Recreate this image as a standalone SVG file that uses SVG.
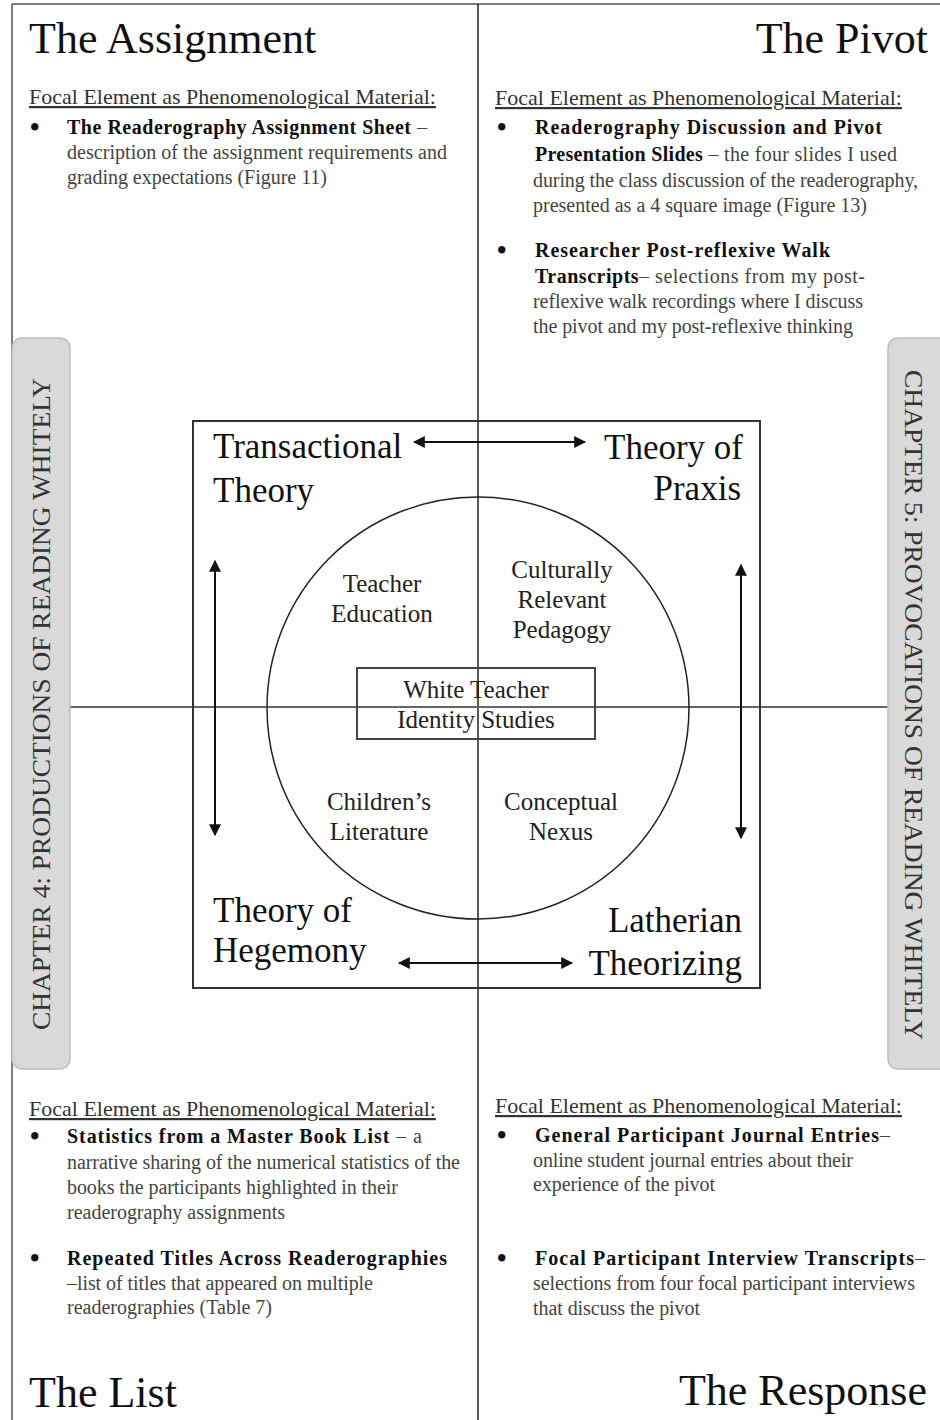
<svg xmlns="http://www.w3.org/2000/svg" width="940" height="1420" viewBox="0 0 940 1420">
<style>
.title{font-family:"Liberation Serif","Times New Roman",serif;font-size:44px;fill:#111}
.head{font-family:"Liberation Serif","Times New Roman",serif;font-size:22px;fill:#333;text-decoration:underline}
.body{font-family:"Liberation Serif","Times New Roman",serif;font-size:20px;fill:#444}
.bul{font-family:"Liberation Serif","Times New Roman",serif;font-size:27px;fill:#111;font-weight:bold}
.b{font-weight:bold;fill:#111}
.big{font-family:"Liberation Serif","Times New Roman",serif;font-size:35px;fill:#111}
.mid{font-family:"Liberation Serif","Times New Roman",serif;font-size:25px;fill:#222;text-anchor:middle}
.side{font-family:"Liberation Serif","Times New Roman",serif;font-size:26px;fill:#333;text-anchor:middle}
.bar{fill:#d9d9d9;stroke:#bdbdbd;stroke-width:1.5}
.conn{stroke:#111;stroke-width:2;fill:none}
</style>
<defs>
<marker id="ah" viewBox="0 0 10 10" refX="9" refY="5" markerWidth="6" markerHeight="6" orient="auto-start-reverse" markerUnits="strokeWidth">
<path d="M0,0 L10,5 L0,10 z" fill="#111"/>
</marker>
</defs>
<rect width="940" height="1420" fill="#fff"/>
<g id="frame">
<line x1="12" y1="4" x2="940" y2="4" stroke="#555" stroke-width="1.5"/>
<line x1="12" y1="4" x2="12" y2="1420" stroke="#555" stroke-width="1.5"/>
<line x1="478" y1="4" x2="478" y2="1420" stroke="#222" stroke-width="1.5"/>
<line x1="70" y1="707" x2="888" y2="707" stroke="#666" stroke-width="2"/>
</g>
<g id="side-left">
<rect class="bar" x="12" y="338" width="58" height="731" rx="10"/>
<text class="side" transform="translate(50,704) rotate(-90)" textLength="652" lengthAdjust="spacingAndGlyphs">CHAPTER 4: PRODUCTIONS OF READING WHITELY</text>
</g>
<g id="side-right">
<rect class="bar" x="888" y="338" width="62" height="731" rx="10"/>
<text class="side" transform="translate(905,705) rotate(90)" textLength="670" lengthAdjust="spacingAndGlyphs">CHAPTER 5: PROVOCATIONS OF READING WHITELY</text>
</g>
<g id="q-assignment">
<text class="title" x="29" y="53">The Assignment</text>
<text class="head" x="29" y="104">Focal Element as Phenomenological Material:</text>
<text class="bul" x="30" y="136">•</text>
<text class="body" x="67" y="134" textLength="360" lengthAdjust="spacing"><tspan class="b">The Readerography Assignment Sheet</tspan> –</text>
<text class="body" x="67" y="159" textLength="380" lengthAdjust="spacing">description of the assignment requirements and</text>
<text class="body" x="67" y="184" textLength="260" lengthAdjust="spacing">grading expectations (Figure 11)</text>
</g>
<g id="q-pivot">
<text class="title" x="928" y="53" text-anchor="end">The Pivot</text>
<text class="head" x="495" y="105">Focal Element as Phenomenological Material:</text>
<text class="bul" x="497" y="136">•</text>
<text class="body b" x="535" y="134" textLength="347" lengthAdjust="spacing">Readerography Discussion and Pivot</text>
<text class="body" x="535" y="161" textLength="362" lengthAdjust="spacing"><tspan class="b">Presentation Slides</tspan> – the four slides I used</text>
<text class="body" x="533" y="187" textLength="385" lengthAdjust="spacing">during the class discussion of the readerography,</text>
<text class="body" x="533" y="212" textLength="334" lengthAdjust="spacing">presented as a 4 square image (Figure 13)</text>
<text class="bul" x="497" y="259">•</text>
<text class="body b" x="535" y="257" textLength="295" lengthAdjust="spacing">Researcher Post-reflexive Walk</text>
<text class="body" x="535" y="283" textLength="330" lengthAdjust="spacing"><tspan class="b">Transcripts</tspan>– selections from my post-</text>
<text class="body" x="533" y="308" textLength="330" lengthAdjust="spacing">reflexive walk recordings where I discuss</text>
<text class="body" x="533" y="333" textLength="320" lengthAdjust="spacing">the pivot and my post-reflexive thinking</text>
</g>
<g id="q-list">
<text class="head" x="29" y="1116">Focal Element as Phenomenological Material:</text>
<text class="bul" x="30" y="1145">•</text>
<text class="body" x="67" y="1143" textLength="355" lengthAdjust="spacing"><tspan class="b">Statistics from a Master Book List</tspan> – a</text>
<text class="body" x="67" y="1169" textLength="393" lengthAdjust="spacing">narrative sharing of the numerical statistics of the</text>
<text class="body" x="67" y="1194" textLength="331" lengthAdjust="spacing">books the participants highlighted in their</text>
<text class="body" x="67" y="1219" textLength="218" lengthAdjust="spacing">readerography assignments</text>
<text class="bul" x="30" y="1267">•</text>
<text class="body b" x="67" y="1265" textLength="380" lengthAdjust="spacing">Repeated Titles Across Readerographies</text>
<text class="body" x="67" y="1290" textLength="306" lengthAdjust="spacing">–list of titles that appeared on multiple</text>
<text class="body" x="67" y="1314" textLength="205" lengthAdjust="spacing">readerographies (Table 7)</text>
<text class="title" x="29" y="1407">The List</text>
</g>
<g id="q-response">
<text class="head" x="495" y="1113">Focal Element as Phenomenological Material:</text>
<text class="bul" x="497" y="1144">•</text>
<text class="body" x="535" y="1142" textLength="355" lengthAdjust="spacing"><tspan class="b">General Participant Journal Entries</tspan>–</text>
<text class="body" x="533" y="1167" textLength="320" lengthAdjust="spacing">online student journal entries about their</text>
<text class="body" x="533" y="1191" textLength="182" lengthAdjust="spacing">experience of the pivot</text>
<text class="bul" x="497" y="1267">•</text>
<text class="body" x="535" y="1265" textLength="390" lengthAdjust="spacing"><tspan class="b">Focal Participant Interview Transcripts</tspan>–</text>
<text class="body" x="533" y="1290" textLength="382" lengthAdjust="spacing">selections from four focal participant interviews</text>
<text class="body" x="533" y="1315" textLength="167" lengthAdjust="spacing">that discuss the pivot</text>
<text class="title" x="927" y="1405" text-anchor="end">The Response</text>
</g>
<g id="center-box">
<rect x="193" y="421" width="567" height="567" fill="none" stroke="#333" stroke-width="2"/>
<circle cx="478" cy="708" r="211" fill="none" stroke="#222" stroke-width="1.5"/>
</g>
<g id="transactional-theory">
<text class="big" x="213" y="458">Transactional</text>
<text class="big" x="213" y="502">Theory</text>
</g>
<g id="theory-of-praxis">
<text class="big" x="743" y="459" text-anchor="end">Theory of</text>
<text class="big" x="741" y="500" text-anchor="end">Praxis</text>
</g>
<g id="theory-of-hegemony">
<text class="big" x="213" y="922">Theory of</text>
<text class="big" x="213" y="962">Hegemony</text>
</g>
<g id="latherian-theorizing">
<text class="big" x="742" y="932" text-anchor="end">Latherian</text>
<text class="big" x="742" y="975" text-anchor="end">Theorizing</text>
</g>
<g id="teacher-education">
<text class="mid" x="382" y="592">Teacher</text>
<text class="mid" x="382" y="622">Education</text>
</g>
<g id="culturally-relevant-pedagogy">
<text class="mid" x="562" y="578">Culturally</text>
<text class="mid" x="562" y="608">Relevant</text>
<text class="mid" x="562" y="638">Pedagogy</text>
</g>
<g id="white-teacher-identity">
<rect x="357" y="668" width="238" height="71" fill="none" stroke="#444" stroke-width="2"/>
<text class="mid" x="476" y="698">White Teacher</text>
<text class="mid" x="476" y="728">Identity Studies</text>
</g>
<g id="childrens-literature">
<text class="mid" x="379" y="810">Children’s</text>
<text class="mid" x="379" y="840">Literature</text>
</g>
<g id="conceptual-nexus">
<text class="mid" x="561" y="810">Conceptual</text>
<text class="mid" x="561" y="840">Nexus</text>
</g>
<g id="connectors">
<line class="conn" x1="414" y1="442" x2="585" y2="442" marker-start="url(#ah)" marker-end="url(#ah)"/>
<line class="conn" x1="399" y1="963" x2="572" y2="963" marker-start="url(#ah)" marker-end="url(#ah)"/>
<line class="conn" x1="215" y1="561" x2="215" y2="835" marker-start="url(#ah)" marker-end="url(#ah)"/>
<line class="conn" x1="741" y1="565" x2="741" y2="838" marker-start="url(#ah)" marker-end="url(#ah)"/>
</g>
</svg>
